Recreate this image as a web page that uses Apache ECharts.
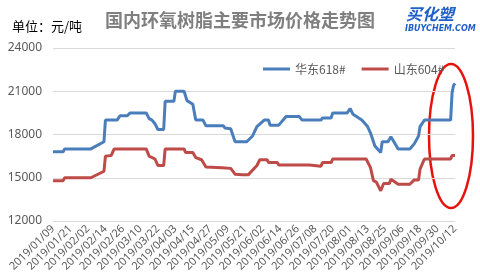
<!DOCTYPE html>
<html><head><meta charset="utf-8">
<script src="https://cdn.jsdelivr.net/npm/echarts@6/dist/echarts.min.js"></script>
<style>html,body{margin:0;padding:0;background:#fff}#c{width:480px;height:279px}</style>
</head><body><div id="c"></div>
<script>
const startDate = '2019-01-09';
const dayCount = 277;
const yTicks = [12000, 15000, 18000, 21000, 24000];
const seriesNames = ['华东618#', '山东604#'];
// key points: day offset from start date, and price
const eastDays = [0,7,8,26,35,36,44,46,51,53,64,66,68,70,72,76,77,83,84,90,92,96,98,103,105,117,118,122,125,133,137,140,145,148,149,155,160,169,171,184,185,191,192,202,204,206,212,216,218,221,225,226,230,232,237,245,248,251,252,255,273,274,275,276];
const eastVals = [16800,16800,17000,17000,17500,19000,19000,19300,19300,19500,19500,19100,19000,18750,18350,18350,20300,20300,21000,21000,20350,20100,19000,19000,18600,18600,18450,18400,17500,17500,17900,18550,19000,19000,18650,18650,19250,19250,19000,19000,19150,19150,19500,19500,19800,19400,19000,18550,18100,17200,16750,17500,17500,17850,17000,17000,17350,17900,18550,19000,19000,20900,21400,21550];
const shanDays = [0,7,8,26,35,36,40,42,64,66,70,72,76,77,90,91,96,98,102,105,116,122,125,130,134,140,142,147,148,154,155,176,177,184,185,191,192,215,218,220,222,225,227,231,232,237,245,248,251,252,255,273,274,276];
const shanVals = [14800,14800,15000,15000,15450,16500,16550,17000,17000,16500,16300,15850,15850,17000,17000,16750,16750,16400,16250,15750,15700,15650,15250,15200,15200,15850,16250,16250,16050,16050,15880,15880,15800,15800,16050,16050,16300,16300,15700,14800,14700,14100,14600,14600,14900,14550,14550,14850,14850,15600,16300,16300,16550,16550];

function pad(n){return (n<10?'0':'')+n;}
const categories = [];
const t0 = Date.UTC(2019,0,9);
for (let i=0;i<dayCount;i++){
  const d = new Date(t0 + i*86400000);
  categories.push(d.getUTCFullYear()+'/'+pad(d.getUTCMonth()+1)+'/'+pad(d.getUTCDate()));
}
function build(days, vals){
  const arr = new Array(dayCount).fill(null);
  days.forEach((d,i)=>{arr[d]=vals[i];});
  return arr;
}
const chart = echarts.init(document.getElementById('c'), null, {renderer:'canvas'});
chart.setOption({
  animation:false,
  backgroundColor:'#fff',
  title:{text:'国内环氧树脂主要市场价格走势图', left:'center', top:6,
    textStyle:{fontFamily:'Noto Sans CJK SC', fontWeight:'bold', fontSize:18, color:'#7f7f7f'}},
  grid:{left:53, right:25, top:48, bottom:58},
  legend:{top:58, left:258, itemWidth:27, itemHeight:3, itemGap:16,
    icon:'rect',
    textStyle:{fontFamily:'Noto Sans CJK SC', fontSize:12, color:'#595959'},
    data:seriesNames},
  xAxis:{type:'category', data:categories, boundaryGap:false,
    axisLine:{show:false}, axisTick:{show:false},
    axisLabel:{interval:11, rotate:45, fontSize:11, color:'#595959', fontFamily:'Noto Sans', margin:6}},
  yAxis:{type:'value', min:yTicks[0], max:yTicks[yTicks.length-1], interval:3000,
    axisLine:{show:false}, axisTick:{show:false},
    axisLabel:{fontSize:12, color:'#595959', fontFamily:'Noto Sans', margin:11, formatter:function(v){return String(v);}},
    splitLine:{lineStyle:{color:'#d9d9d9', width:1}}},
  series:[
    {name:seriesNames[0], type:'line', data:build(eastDays,eastVals), connectNulls:true, showSymbol:false,
      itemStyle:{color:'#4a7ebb'}, lineStyle:{color:'#4a7ebb', width:3}},
    {name:seriesNames[1], type:'line', data:build(shanDays,shanVals), connectNulls:true, showSymbol:false,
      itemStyle:{color:'#be4b48'}, lineStyle:{color:'#be4b48', width:3}}
  ],
  graphic:[
    {type:'text', left:12, top:20, style:{text:'单位：元/吨', font:'13px "Noto Sans CJK SC"', fill:'#000'}},
    {type:'text', left:406, top:6, style:{text:'买化塑', font:'italic bold 16px "Noto Sans CJK SC"', fill:'#1f5fc8'}},
    {type:'text', left:405, top:25, style:{text:'IBUYCHEM.COM', font:'italic bold 8px "DejaVu Sans"', fill:'#1f5fc8'}},
    {type:'ellipse', shape:{cx:451, cy:136, rx:22, ry:72}, style:{fill:'none', stroke:'#e8120c', lineWidth:2.5}}
  ]
});
</script></body></html>
